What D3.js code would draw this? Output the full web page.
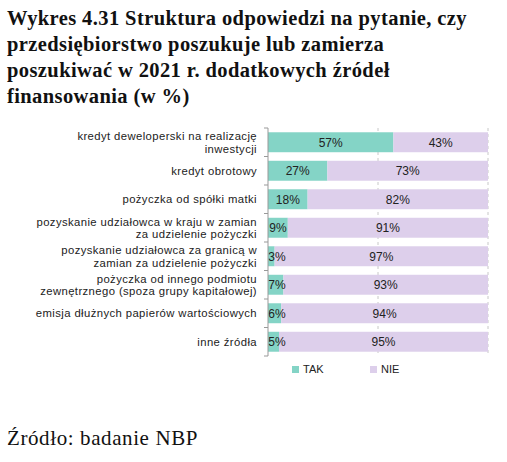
<!DOCTYPE html>
<html><head><meta charset="utf-8">
<script src="https://cdn.jsdelivr.net/npm/d3@7"></script>
<style>body{margin:0;background:#fff}</style>
</head><body>
<svg id="c" width="507" height="462"></svg>
<script>
const categories = [
  ["kredyt deweloperski na realizację", "inwestycji"],
  ["kredyt obrotowy"],
  ["pożyczka od spółki matki"],
  ["pozyskanie udziałowca w kraju w zamian", "za udzielenie pożyczki"],
  ["pozyskanie udziałowca za granicą w", "zamian za udzielenie pożyczki"],
  ["pożyczka od innego podmiotu", "zewnętrznego (spoza grupy kapitałowej)"],
  ["emisja dłużnych papierów wartościowych"],
  ["inne źródła"]
];
const tak = [57, 27, 18, 9, 3, 7, 6, 5];
const nie = [43, 73, 82, 91, 97, 93, 94, 95];
const titleLines = [
  "Wykres 4.31 Struktura odpowiedzi na pytanie, czy",
  "przedsiębiorstwo poszukuje lub zamierza",
  "poszukiwać w 2021 r. dodatkowych źródeł",
  "finansowania (w %)"
];
const colTak = "#84d4c6", colNie = "#ddcfeb";

const svg = d3.select("#c");
const sans = "Liberation Sans, Arial, sans-serif";
const serif = "Liberation Serif, Times New Roman, serif";

svg.selectAll("text.title").data(titleLines).join("text")
  .attr("x", 7).attr("y", (d, i) => 25 + i * 26)
  .attr("font-family", serif).attr("font-weight", "bold").attr("font-size", 20.5)
  .attr("letter-spacing", 0.4)
  .attr("fill", "#111").text(d => d);

const x = d3.scaleLinear().domain([0, 100]).range([268, 488]);
const y = d3.scaleBand().domain(d3.range(categories.length)).range([128, 356]).paddingInner(0.3).paddingOuter(0.15);

// grid
svg.selectAll("line.grid").data([50, 100]).join("line")
  .attr("x1", d => x(d)).attr("x2", d => x(d)).attr("y1", 128).attr("y2", 356)
  .attr("stroke", "#c8c8c8").attr("stroke-dasharray", "3,3");

const rows = svg.selectAll("g.row").data(categories).join("g").attr("class", "row");
rows.append("rect").attr("x", x(0)).attr("y", (d, i) => y(i))
  .attr("width", (d, i) => x(tak[i]) - x(0)).attr("height", y.bandwidth()).attr("fill", colTak);
rows.append("rect").attr("x", (d, i) => x(tak[i])).attr("y", (d, i) => y(i))
  .attr("width", (d, i) => x(tak[i] + nie[i]) - x(tak[i])).attr("height", y.bandwidth()).attr("fill", colNie);
rows.append("text").attr("x", (d, i) => Math.max(x(tak[i] / 2), x(0) + 9)).attr("y", (d, i) => y(i) + y.bandwidth() / 2 + 4.5)
  .attr("text-anchor", "middle").attr("font-family", sans).attr("font-size", 12).attr("fill", "#222")
  .text((d, i) => tak[i] + "%");
rows.append("text").attr("x", (d, i) => x(tak[i] + nie[i] / 2)).attr("y", (d, i) => y(i) + y.bandwidth() / 2 + 4.5)
  .attr("text-anchor", "middle").attr("font-family", sans).attr("font-size", 12).attr("fill", "#222")
  .text((d, i) => nie[i] + "%");
rows.each(function (d, i) {
  const cy = y(i) + y.bandwidth() / 2;
  d3.select(this).selectAll("text.cat").data(d).join("text").attr("class", "cat")
    .attr("x", 257).attr("text-anchor", "end")
    .attr("y", (t, j) => cy + 4 + (j - (d.length - 1) / 2) * 12.5)
    .attr("font-family", sans).attr("font-size", 11.3).attr("letter-spacing", 0.4)
    .attr("fill", "#222").text(t => t);
});

// axis
svg.append("line").attr("x1", x(0)).attr("x2", x(0)).attr("y1", 128).attr("y2", 356).attr("stroke", "#999");
svg.selectAll("line.tk").data(d3.range(categories.length + 1)).join("line")
  .attr("x1", x(0) - 4).attr("x2", x(0))
  .attr("y1", i => 128 + i * (228 / categories.length)).attr("y2", i => 128 + i * (228 / categories.length))
  .attr("stroke", "#999");

// legend
const leg = [["TAK", colTak, 292], ["NIE", colNie, 370]];
leg.forEach(([t, c, lx]) => {
  svg.append("rect").attr("x", lx).attr("y", 366).attr("width", 7).attr("height", 7).attr("fill", c);
  svg.append("text").attr("x", lx + 11).attr("y", 373).attr("font-family", sans).attr("font-size", 11).attr("fill", "#222").text(t);
});

svg.append("text").attr("x", 7).attr("y", 445).attr("font-family", serif).attr("font-size", 21)
  .attr("letter-spacing", 0.6).attr("fill", "#111").text("Źródło: badanie NBP");
</script>
</body></html>
